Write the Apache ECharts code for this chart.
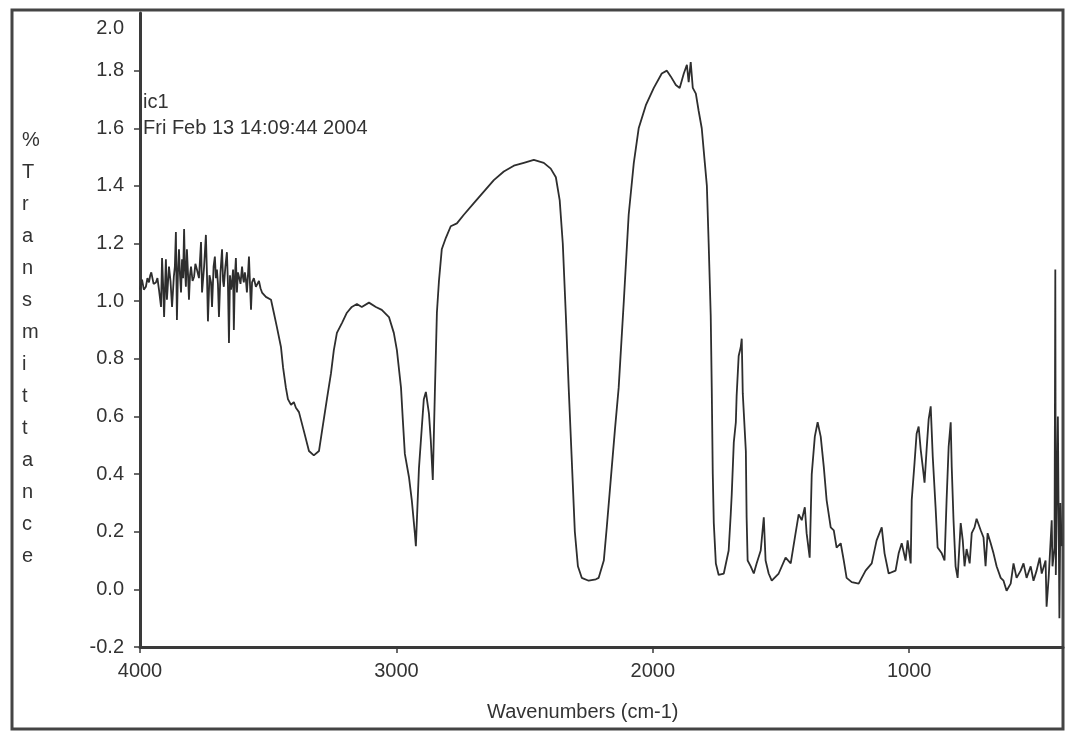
<!DOCTYPE html>
<html>
<head>
<meta charset="utf-8">
<script src="https://cdn.jsdelivr.net/npm/echarts@6/dist/echarts.min.js"></script>
<style>
  html, body { margin: 0; padding: 0; background: #fff; }
  #chart { width: 1067px; height: 731px; }
</style>
</head>
<body>
<div id="chart"></div>
<script>
// spectrum: wavenumber (cm-1) and %T
const wavenumbers = [
  4000, 3996, 3992, 3985, 3977, 3971, 3965, 3960, 3956, 3947, 3938, 3932, 3926, 3918, 3914, 3910,
  3906, 3899, 3895, 3887, 3881, 3875, 3868, 3864, 3860, 3856, 3852, 3848, 3844, 3840, 3836, 3832,
  3828, 3825, 3821, 3817, 3813, 3809, 3805, 3801, 3795, 3789, 3784, 3778, 3770, 3762, 3758, 3750,
  3743, 3739, 3735, 3729, 3723, 3719, 3713, 3708, 3704, 3700, 3696, 3692, 3686, 3680, 3676, 3673,
  3667, 3661, 3657, 3653, 3649, 3645, 3641, 3637, 3634, 3630, 3626, 3622, 3618, 3614, 3608, 3602,
  3598, 3595, 3591, 3587, 3583, 3579, 3575, 3571, 3567, 3563, 3556, 3548, 3542, 3536, 3530, 3524,
  3509, 3489, 3478, 3466, 3450, 3442, 3431, 3423,
  3411, 3400, 3392, 3380, 3361, 3341, 3322, 3302, 3290, 3271, 3255, 3244, 3232, 3212, 3193, 3174,
  3154, 3135, 3107, 3080, 3057, 3029, 3010, 2998, 2982, 2975, 2967, 2951, 2940, 2928, 2924, 2912,
  2901, 2893, 2885, 2873, 2866, 2858, 2850, 2842, 2834, 2823, 2807, 2788, 2764, 2737, 2698, 2659,
  2620, 2581, 2542, 2503, 2464, 2425, 2398, 2378, 2363, 2351, 2339, 2328, 2316, 2304, 2292, 2277,
  2250, 2222, 2211, 2191, 2179, 2164, 2148, 2133, 2113, 2094, 2074, 2055, 2027, 1996, 1965, 1945,
  1930, 1910, 1895, 1879, 1867, 1860, 1852, 1844, 1832, 1821, 1809, 1797, 1789, 1782, 1774, 1770,
  1766, 1762, 1754, 1743, 1723, 1704, 1696, 1692, 1684, 1676, 1673, 1665, 1657, 1653, 1649, 1637,
  1634, 1630, 1618, 1606, 1595, 1579, 1567, 1560, 1548, 1536, 1509, 1482, 1462, 1443, 1431, 1419,
  1407, 1400, 1388, 1380, 1368, 1357, 1345, 1333, 1322, 1306, 1294, 1283, 1267, 1255, 1244, 1224,
  1197, 1170, 1146, 1127, 1107, 1096, 1080, 1053, 1041, 1029, 1014, 1006, 994, 990, 979, 971,
  963, 955, 947, 940, 932, 924, 916, 908, 897, 889, 873, 862, 854, 846, 838, 834,
  827, 819, 811, 799, 791, 784, 776, 764, 756, 745, 737, 721, 710, 702, 694, 682,
  671, 659, 643, 632, 620, 604, 593, 581, 565, 554, 542, 526, 515, 503, 491, 483,
  468, 464, 456, 444, 441, 433, 430, 428, 420, 414, 410, 405
];
const transmittance = [
  1.04, 1.06, 1.075, 1.04, 1.05, 1.08, 1.065, 1.09, 1.10, 1.06, 1.065, 1.08, 1.04, 0.98, 1.15, 1.06,
  0.945, 1.145, 1.005, 1.12, 1.07, 0.98, 1.085, 1.12, 1.24, 0.935, 1.10, 1.18, 1.09, 1.03, 1.145, 1.08,
  1.25, 1.12, 1.05, 1.18, 1.10, 1.005, 1.09, 1.12, 1.07, 1.085, 1.13, 1.11, 1.08, 1.205, 1.03, 1.12,
  1.23, 1.10, 0.93, 1.09, 1.065, 0.98, 1.12, 1.155, 1.08, 1.11, 1.06, 0.945, 1.10, 1.18, 1.07, 1.05,
  1.12, 1.17, 1.06, 0.855, 1.09, 1.04, 1.065, 1.11, 0.90, 1.08, 1.15, 1.03, 1.10, 1.085, 1.06, 1.12,
  1.08, 1.065, 1.10, 1.075, 1.03, 1.09, 1.155, 1.06, 0.97, 1.065, 1.08, 1.05, 1.06, 1.07, 1.045, 1.03,
  1.015, 1.005, 0.96, 0.91, 0.84, 0.77, 0.70, 0.66,
  0.64, 0.65, 0.63, 0.615, 0.55, 0.48, 0.465, 0.48, 0.55, 0.66, 0.75, 0.83, 0.89, 0.925, 0.96, 0.98,
  0.99, 0.98, 0.995, 0.98, 0.97, 0.945, 0.89, 0.83, 0.70, 0.59, 0.47, 0.39, 0.31, 0.195, 0.15, 0.42,
  0.56, 0.66, 0.685, 0.61, 0.52, 0.38, 0.68, 0.96, 1.07, 1.18, 1.22, 1.26, 1.27, 1.30, 1.34, 1.38,
  1.42, 1.45, 1.47, 1.48, 1.49, 1.48, 1.46, 1.43, 1.35, 1.20, 0.95, 0.70, 0.45, 0.20, 0.08, 0.04,
  0.03, 0.035, 0.04, 0.10, 0.22, 0.38, 0.55, 0.70, 1.00, 1.30, 1.48, 1.60, 1.68, 1.74, 1.79, 1.80,
  1.78, 1.75, 1.74, 1.79, 1.82, 1.76, 1.83, 1.74, 1.72, 1.66, 1.60, 1.48, 1.40, 1.20, 0.95, 0.70,
  0.40, 0.23, 0.09, 0.05, 0.055, 0.135, 0.26, 0.33, 0.51, 0.58, 0.67, 0.81, 0.84, 0.87, 0.68, 0.48,
  0.25, 0.10, 0.08, 0.055, 0.09, 0.135, 0.25, 0.10, 0.055, 0.03, 0.055, 0.11, 0.09, 0.195, 0.26, 0.24,
  0.285, 0.195, 0.11, 0.40, 0.53, 0.58, 0.53, 0.425, 0.31, 0.215, 0.205, 0.145, 0.16, 0.10, 0.04, 0.025,
  0.02, 0.065, 0.09, 0.17, 0.215, 0.125, 0.055, 0.065, 0.125, 0.16, 0.10, 0.17, 0.09, 0.31, 0.44, 0.54,
  0.565, 0.485, 0.425, 0.37, 0.485, 0.59, 0.635, 0.46, 0.285, 0.145, 0.125, 0.10, 0.31, 0.495, 0.58, 0.425,
  0.24, 0.08, 0.04, 0.23, 0.17, 0.08, 0.14, 0.09, 0.195, 0.215, 0.245, 0.205, 0.18, 0.08, 0.195, 0.16,
  0.125, 0.08, 0.04, 0.03, -0.005, 0.02, 0.09, 0.04, 0.065, 0.09, 0.04, 0.08, 0.03, 0.065, 0.11, 0.055,
  0.10, -0.06, 0.04, 0.24, 0.08, 0.145, 1.11, 0.05, 0.6, -0.1, 0.3, 0.15
];

const xTicks = [4000, 3000, 2000, 1000];
const yLabels = [-0.2, 0, 0.2, 0.4, 0.6, 0.8, 1.0, 1.2, 1.4, 1.6, 1.8, 2.0];
const yTicks = [-0.2, 0, 0.2, 0.4, 0.6, 0.8, 1.0, 1.2, 1.4, 1.6, 1.8];
const yTitle = '%Transmittance';
const xTitle = 'Wavenumbers (cm-1)';
const noteLines = ['ic1', 'Fri Feb 13 14:09:44 2004'];

const font = '"Liberation Sans", Arial, sans-serif';
const ink = '#333';

const chart = echarts.init(document.getElementById('chart'));

chart.setOption({
  animation: false,
  backgroundColor: '#fff',
  grid: { left: 140, right: 4, top: 13, bottom: 84 },
  xAxis: {
    type: 'value',
    min: 400,
    max: 4000,
    inverse: true,
    axisLine: { onZero: false, lineStyle: { color: '#3a3a3a', width: 3 } },
    axisTick: { customValues: xTicks, length: 6, lineStyle: { color: '#3a3a3a', width: 1.5 } },
    axisLabel: {
      customValues: xTicks, margin: 14,
      color: ink, fontSize: 20, fontFamily: font,
      formatter: v => String(v)
    },
    splitLine: { show: false }
  },
  yAxis: {
    type: 'value',
    min: -0.2,
    max: 2.0,
    axisLine: { show: true, onZero: false, lineStyle: { color: '#3a3a3a', width: 3 } },
    axisTick: { show: true, customValues: yTicks, length: 6, lineStyle: { color: '#3a3a3a', width: 1.5 } },
    axisLabel: {
      customValues: yLabels, margin: 16,
      color: ink, fontSize: 20, fontFamily: font,
      formatter: v => (Math.abs(v - 2) < 1e-9 ? '{t|2.0}' : v.toFixed(1)),
      rich: { t: { padding: [30, 0, 0, 0], color: ink, fontSize: 20, fontFamily: font } }
    },
    splitLine: { show: false }
  },
  series: [{
    type: 'line',
    data: wavenumbers.map((w, i) => [w, transmittance[i]]),
    showSymbol: false,
    lineStyle: { color: '#2e2e2e', width: 1.8 },
    silent: true
  }],
  graphic: [
    {
      type: 'rect',
      shape: { x: 12, y: 10, width: 1051, height: 719 },
      style: { fill: 'none', stroke: '#444', lineWidth: 3 }
    },
    {
      type: 'text',
      left: 22, top: 124,
      style: {
        text: yTitle.split('').join('\n'),
        fill: ink, fontSize: 20, fontFamily: font,
        lineHeight: 32, align: 'center', width: 20
      }
    },
    {
      type: 'text',
      left: 143, top: 89,
      style: {
        text: noteLines.join('\n'),
        fill: ink, fontSize: 20, fontFamily: font, lineHeight: 26
      }
    },
    {
      type: 'text',
      left: 487, top: 702,
      style: { text: xTitle, fill: ink, fontSize: 20, fontFamily: font }
    }
  ]
});
</script>
</body>
</html>
